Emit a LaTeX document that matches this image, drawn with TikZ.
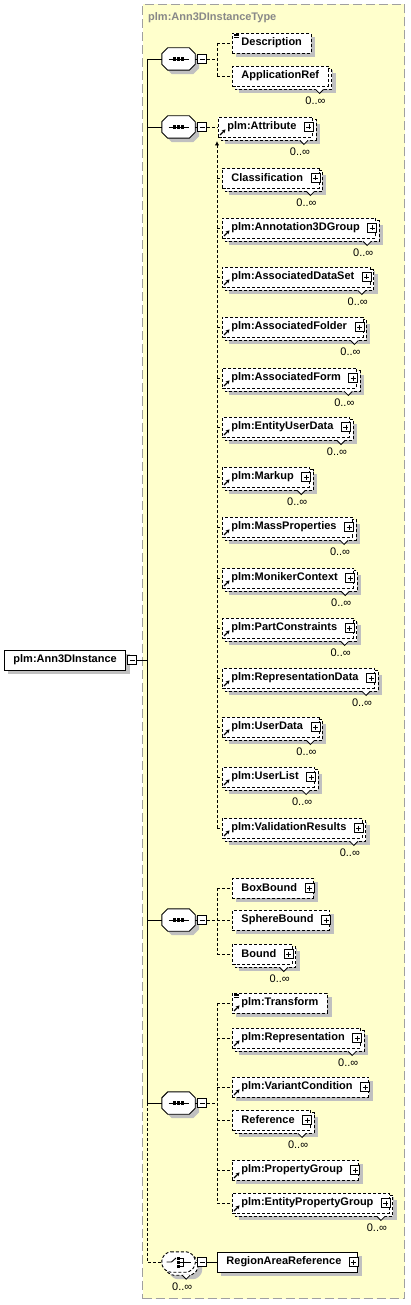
\documentclass[tikz,border=0pt]{standalone}
\usepackage{fontspec}
\setmainfont{Liberation Sans}
\usetikzlibrary{arrows.meta}
\pgfdeclarelayer{frame}
\pgfdeclarelayer{shade}
\pgfdeclarelayer{back}
\pgfsetlayers{frame,shade,back,main}
\definecolor{frameyellow}{RGB}{255,255,204}
\definecolor{framegray}{RGB}{160,160,160}
\definecolor{shadegray}{RGB}{192,192,192}
\definecolor{titlegray}{RGB}{136,136,136}
\tikzset{
  dsh/.style={dash pattern=on 3pt off 2pt},
  ln/.style={line width=0.9pt},
  elbox/.style={draw, fill=white, ln, inner xsep=0pt, inner ysep=0pt,
    minimum height=20pt, anchor=west, font=\fontsize{11}{13}\selectfont\bfseries},
  optel/.style={elbox, dsh},
  reqel/.style={elbox},
  smallbox/.style={draw, fill=white, line width=0.8pt, minimum size=9pt, inner sep=0pt},
  mult/.style={font=\fontsize{11}{13}\selectfont, inner sep=0pt},
  comp/.style={minimum width=33pt, minimum height=22pt, inner sep=0pt},
  conn/.style={ln},
  dconn/.style={ln, dsh},
}
\newcommand{\xshade}[3]{%
  \begin{pgfonlayer}{shade}
  \fill[shadegray] ([shift={(#2,#3)}]#1.north west) rectangle ([shift={(#2,#3)}]#1.south east);
  \end{pgfonlayer}}
\newcommand{\xel}[6]{%
  \node[#2] (#1) at (#3,#4) {\hspace*{9pt}#5\hspace*{#6}};
  \xshade{#1}{4}{4}}
\newcommand{\xplus}[1]{%
  \node[smallbox] (#1-p) at ([shift={(-4,0)}]#1.east) {};
  \draw[line width=0.8pt] ([shift={(-2.5,0)}]#1-p.center) -- ([shift={(2.5,0)}]#1-p.center)
    ([shift={(0,-2.5)}]#1-p.center) -- ([shift={(0,2.5)}]#1-p.center);}
\newcommand{\xminus}[2]{%
  \node[smallbox] (#1) at (#2) {};
  \draw[line width=0.8pt] ([shift={(-2.5,0)}]#1.center) -- ([shift={(2.5,0)}]#1.center);}
\newcommand{\xrep}[1]{%
  \begin{pgfonlayer}{back}
  \draw[fill=white, ln, dsh] ([shift={(3,3)}]#1.north west) rectangle ([shift={(3,3)}]#1.south east);
  \end{pgfonlayer}
  \xshade{#1}{7}{7}
  \coordinate (#1-n) at ([shift={(-9,3)}]#1.south east);
  \fill[white] ([shift={(-4,-0.6)}]#1-n) -- ([shift={(0,4)}]#1-n) -- ([shift={(4,-0.6)}]#1-n) -- cycle;
  \draw[line width=0.8pt] ([shift={(-4,0)}]#1-n) -- ([shift={(0,4)}]#1-n) -- ([shift={(4,0)}]#1-n);
  \node[mult] (#1-m) at ([shift={(-4,11)}]#1-n) {0..∞};}
\newcommand{\xref}[1]{\draw[line width=1.2pt, -{Stealth[length=3.5pt,width=4pt]}] ([shift={(2,-2.5)}]#1.south west) -- ([shift={(7.5,-8)}]#1.south west);}
\newcommand{\xdoc}[1]{\foreach \k in {1.5,3,4.5}{\draw[line width=0.6pt] ([shift={(2,\k)}]#1.north west) -- ([shift={(6.5,\k)}]#1.north west);}}
\newcommand{\repel}[4]{\xel{#1}{optel}{#2}{#3}{#4}{16pt}\xplus{#1}\xrep{#1}}
\newcommand{\xoct}[1]{([shift={(6,0)}]#1.north west) -- ([shift={(-6,0)}]#1.north east) -- ([shift={(0,6)}]#1.north east) -- ([shift={(0,-6)}]#1.south east) -- ([shift={(-6,0)}]#1.south east) -- ([shift={(6,0)}]#1.south west) -- ([shift={(0,-6)}]#1.south west) -- ([shift={(0,6)}]#1.north west) -- cycle}
\newcommand{\xseq}[3]{%
  \node[comp] (#1) at (#2,#3) {};
  \node[comp] (#1-s) at ([shift={(4,4)}]#1.center) {};
  \begin{pgfonlayer}{shade}\fill[shadegray] \xoct{#1-s};\end{pgfonlayer}
  \draw[ln, fill=white] \xoct{#1};
  \draw[ln] ([shift={(-10,0)}]#1.center) -- ([shift={(10,0)}]#1.center);
  \foreach \k in {-4,0,4}{\fill ([shift={(\k-1.7,-1.7)}]#1.center) rectangle ([shift={(\k+1.7,1.7)}]#1.center);}
  \xminus{#1-x}{[shift={(23.5,0)}]#1.center}
  \draw[ln] (#1.east) -- (#1-x.west);}
\begin{document}
\begin{tikzpicture}[x=1pt,y=-1pt]
\useasboundingbox (0,0) rectangle (410,1305);
\begin{pgfonlayer}{frame}
\node[draw=framegray, fill=frameyellow, line width=1pt, dash pattern=on 9pt off 4pt,
  minimum width=262pt, minimum height=1294pt, inner sep=0pt, anchor=north west] (frame) at (142,4) {};
\end{pgfonlayer}
\node[anchor=west, inner sep=0pt, text=titlegray, font=\fontsize{11}{13}\selectfont\bfseries] (title) at (148,18) {plm:Ann3DInstanceType};

% root
\xel{root}{reqel}{4}{660}{plm:Ann3DInstance}{9pt}
\xminus{root-x}{[shift={(6,0)}]root.east}

% compositors
\xseq{s1}{178.5}{59}
\xseq{s2}{178.5}{127}
\xseq{s3}{178.5}{920}
\xseq{s4}{178.5}{1103}

% choice
\node[comp, minimum height=20pt] (ch) at (178.5,1262) {};
\node[comp, minimum height=20pt] (ch-b) at ([shift={(3,3)}]ch.center) {};
\node[comp, minimum height=20pt] (ch-s) at ([shift={(7,7)}]ch.center) {};
\begin{pgfonlayer}{shade}\fill[shadegray, rounded corners=3pt] \xoct{ch-s};\end{pgfonlayer}
\begin{pgfonlayer}{back}\draw[ln, dsh, fill=white, rounded corners=3pt] \xoct{ch-b};\end{pgfonlayer}
\draw[ln, dsh, fill=white, rounded corners=3pt] \xoct{ch};
\coordinate (ch-n) at ([shift={(-9,3)}]ch.south east);
\fill[white] ([shift={(-4,-0.6)}]ch-n) -- ([shift={(0,4)}]ch-n) -- ([shift={(4,-0.6)}]ch-n) -- cycle;
\draw[line width=0.8pt] ([shift={(-4,0)}]ch-n) -- ([shift={(0,4)}]ch-n) -- ([shift={(4,0)}]ch-n);
\node[mult] (ch-m) at ([shift={(-4,11)}]ch-n) {0..∞};
\draw[ln] ([shift={(-12,0)}]ch.center) -- ([shift={(-7,0)}]ch.center) -- ([shift={(-2.5,-4)}]ch.center);
\foreach \k in {-4,0,4}{\fill ([shift={(-1.2,\k-1.5)}]ch.center) rectangle ([shift={(1.8,\k+1.5)}]ch.center);}
\draw[ln] ([shift={(1.8,-4)}]ch.center) -- ([shift={(5,-4)}]ch.center) -- ([shift={(5,4)}]ch.center) -- ([shift={(1.8,4)}]ch.center)
  ([shift={(1.8,0)}]ch.center) -- ([shift={(12,0)}]ch.center);
\xminus{ch-x}{[shift={(23.5,0)}]ch.center}
\draw[ln] (ch.east) -- (ch-x.west);

% sequence 1
\xel{desc}{optel}{232}{43}{Description}{9pt}\xdoc{desc}
\xel{appref}{optel}{232}{76}{ApplicationRef}{9pt}\xrep{appref}

% sequence 2
\repel{a1}{218}{127}{plm:Attribute}\xref{a1}
\repel{a2}{222}{178}{Classification}
\repel{a3}{222}{228}{plm:Annotation3DGroup}\xref{a3}
\repel{a4}{222}{277}{plm:AssociatedDataSet}\xref{a4}
\repel{a5}{222}{327}{plm:AssociatedFolder}\xref{a5}
\repel{a6}{222}{378}{plm:AssociatedForm}\xref{a6}
\repel{a7}{222}{427}{plm:EntityUserData}\xref{a7}
\repel{a8}{222}{477}{plm:Markup}\xref{a8}
\repel{a9}{222}{527}{plm:MassProperties}\xref{a9}
\repel{a10}{222}{578}{plm:MonikerContext}\xref{a10}
\repel{a11}{222}{628}{plm:PartConstraints}\xref{a11}
\repel{a12}{222}{678}{plm:RepresentationData}\xref{a12}
\repel{a13}{222}{727}{plm:UserData}\xref{a13}
\repel{a14}{222}{777}{plm:UserList}\xref{a14}
\repel{a15}{222}{828}{plm:ValidationResults}\xref{a15}

% sequence 3
\xel{bb}{optel}{232}{888}{BoxBound}{16pt}\xplus{bb}
\xel{sb}{optel}{232}{920}{SphereBound}{16pt}\xplus{sb}
\repel{bd}{232}{954}{Bound}

% sequence 4
\xel{tr}{optel}{232}{1003}{plm:Transform}{9pt}\xref{tr}\xdoc{tr}
\repel{rp}{232}{1038}{plm:Representation}\xref{rp}
\xel{vc}{optel}{232}{1087}{plm:VariantCondition}{16pt}\xplus{vc}\xref{vc}
\repel{rf}{232}{1120}{Reference}
\xel{pg}{optel}{232}{1170}{plm:PropertyGroup}{16pt}\xplus{pg}\xref{pg}
\repel{epg}{232}{1203}{plm:EntityPropertyGroup}\xref{epg}

% region area reference
\xel{rar}{reqel}{217}{1262}{RegionAreaReference}{16pt}\xplus{rar}

% trunk
\coordinate (trk) at (147,660);
\draw[conn] (root-x.east) -- (trk);
\draw[conn] (s1.west -| trk) -- (s4.west -| trk);
\draw[dconn] (s4.west -| trk) -- (ch.west -| trk) -- (ch.west);
\foreach \s in {s1,s2,s3,s4}{\draw[conn] (\s.west -| trk) -- (\s.west);}
\draw[conn] (ch-x.east) -- (rar.west);

% branch 1
\coordinate (b1) at (217,59);
\draw[dconn] (s1-x.east) -- (b1);
\draw[dconn] (desc.west -| b1) -- (appref.west -| b1);
\draw[dconn] (desc.west -| b1) -- (desc.west);
\draw[dconn] (appref.west -| b1) -- (appref.west);

% branch 2
\coordinate (b2) at (217,141);
\draw[dconn] (s2-x.east) -- (a1.west);
\draw[dconn, -{Latex[length=4.5pt,width=4.5pt]}] (a15.west -| b2) -- (b2);
\foreach \i in {2,...,15}{\draw[dconn] (a\i.west -| b2) -- (a\i.west);}

% branch 3
\coordinate (b3) at (217,920);
\draw[dconn] (s3-x.east) -- (b3);
\draw[dconn] (bb.west -| b3) -- (bd.west -| b3);
\foreach \n in {bb,sb,bd}{\draw[dconn] (\n.west -| b3) -- (\n.west);}

% branch 4
\coordinate (b4) at (217,1103);
\draw[dconn] (s4-x.east) -- (b4);
\draw[dconn] (tr.west -| b4) -- (epg.west -| b4);
\foreach \n in {tr,rp,vc,rf,pg,epg}{\draw[dconn] (\n.west -| b4) -- (\n.west);}
\end{tikzpicture}
\end{document}
